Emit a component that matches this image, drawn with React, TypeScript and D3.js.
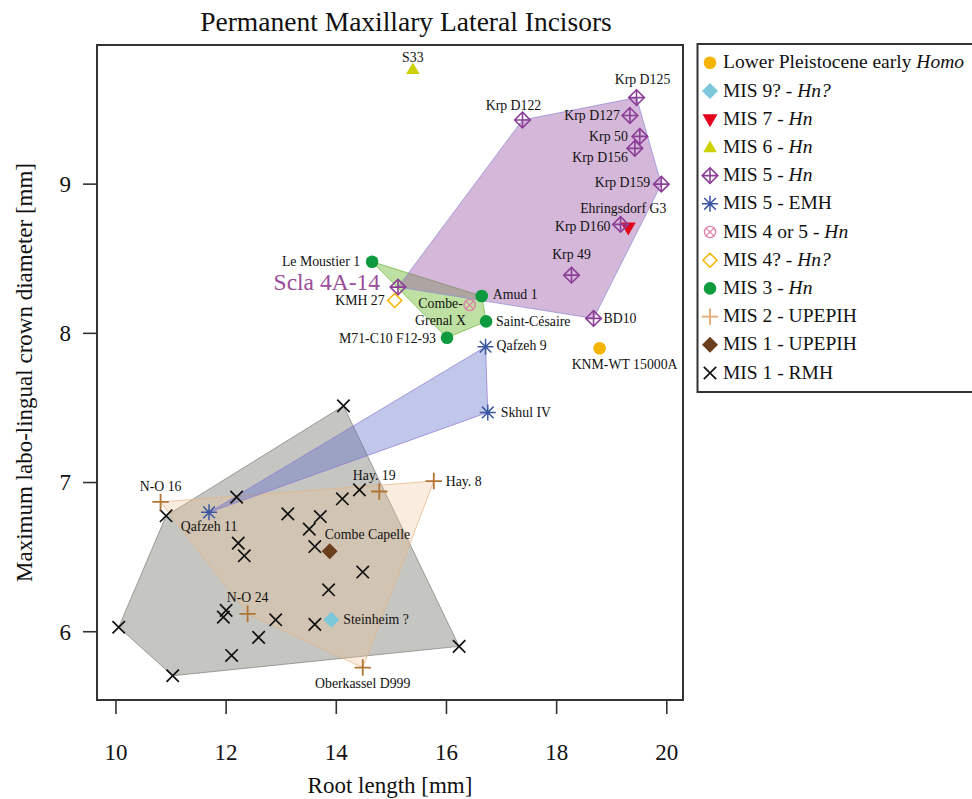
import React from 'react';
import * as d3 from 'd3';

// ---- groups (legend order) ----
const groupNames = [
  'Lower Pleistocene early ',
  'MIS 9? - ',
  'MIS 7 - ',
  'MIS 6 - ',
  'MIS 5 - ',
  'MIS 5 - EMH',
  'MIS 4 or 5 - ',
  'MIS 4? - ',
  'MIS 3 - ',
  'MIS 2 - UPEPIH',
  'MIS 1 - UPEPIH',
  'MIS 1 - RMH',
];
const groupItalic = ['Homo', 'Hn?', 'Hn', 'Hn', 'Hn', '', 'Hn', 'Hn?', 'Hn', '', '', ''];
const groupColors = [
  '#F5B400', '#7CC8DA', '#E2001A', '#CDD100', '#8C3F97', '#3A56A3',
  '#E07DA8', '#F5B400', '#0E9A3E', '#B07434', '#6A3D1C', '#111111',
];

// ---- named specimens ----
const specimenNames = [
  'KNM-WT 15000A', 'Steinheim ?', 'Ehringsdorf G3', 'S33',
  'Scla 4A-14', 'Krp D122', 'Krp D125', 'Krp D127', 'Krp 50', 'Krp D156', 'Krp D159', 'Krp D160', 'Krp 49', 'BD10',
  'Qafzeh 9', 'Skhul IV', 'Qafzeh 11',
  'Combe-Grenal X', 'KMH 27',
  'Le Moustier 1', 'Amud 1', 'Saint-Césaire', 'M71-C10 F12-93',
  'N-O 16', 'Hay. 19', 'Hay. 8', 'N-O 24', 'Oberkassel D999',
  'Combe Capelle',
];
const specimenGroup = [
  0, 1, 2, 3,
  4, 4, 4, 4, 4, 4, 4, 4, 4, 4,
  5, 5, 5,
  6, 7,
  8, 8, 8, 8,
  9, 9, 9, 9, 9,
  10,
];
const specimenRoot = [
  18.78, 13.91, 19.30, 15.39,
  15.12, 17.38, 19.45, 19.33, 19.51, 19.42, 19.90, 19.16, 18.27, 18.67,
  16.71, 16.75, 11.69,
  16.42, 15.06,
  14.65, 16.64, 16.72, 16.01,
  10.81, 14.78, 15.77, 12.39, 14.48,
  13.88,
];
const specimenCrown = [
  7.90, 6.08, 8.71, 9.77,
  8.31, 9.43, 9.58, 9.46, 9.32, 9.24, 9.00, 8.73, 8.39, 8.10,
  7.91, 7.47, 6.80,
  8.19, 8.22,
  8.48, 8.25, 8.08, 7.97,
  6.87, 6.94, 7.01, 6.12, 5.76,
  6.54,
];

// ---- unnamed recent modern humans (MIS 1 - RMH) ----
const rmhRoot = [
  11.03, 10.05, 10.91, 12.19, 12.22, 12.33, 12.00, 11.95, 12.10, 12.59, 12.90,
  13.12, 13.51, 13.71, 13.61, 13.61, 13.86, 14.48, 14.11, 14.42, 14.13, 16.23,
];
const rmhCrown = [
  5.705, 6.03, 6.777, 6.902, 6.594, 6.509, 6.143, 6.098, 5.841, 5.962, 6.08,
  6.79, 6.688, 6.772, 6.571, 6.049, 6.281, 6.40, 6.891, 6.951, 7.514, 5.902,
];

const xTicks = [10, 12, 14, 16, 18, 20];
const yTicks = [6, 7, 8, 9];

// groups enclosed by convex hulls, drawn in this order
const hullGroups = [11, 9, 5, 8, 4];
const hullFill: Record<number, string> = {
  11: 'rgba(120,120,112,0.43)',
  9: 'rgba(240,196,150,0.30)',
  5: 'rgba(80,100,200,0.36)',
  8: 'rgba(120,190,60,0.48)',
  4: 'rgba(150,75,160,0.40)',
};
const hullStroke: Record<number, string> = {
  11: 'rgba(110,110,105,0.6)',
  9: 'rgba(230,180,130,0.7)',
  5: 'rgba(140,120,210,0.7)',
  8: 'rgba(110,180,60,0.7)',
  4: 'rgba(140,140,210,0.7)',
};

// label placement around each point
type Lab = { dx: number; dy: number; anchor: string; lines?: string[]; size?: number; color?: string };
const labelLayout: Record<string, Lab> = {
  'KNM-WT 15000A': { dx: 25, dy: 16, anchor: 'middle' },
  'Steinheim ?': { dx: 12, dy: 0, anchor: 'start' },
  'Ehringsdorf G3': { dx: -5, dy: -19, anchor: 'middle' },
  'S33': { dx: 0, dy: -12, anchor: 'middle' },
  'Scla 4A-14': { dx: -18, dy: -5, anchor: 'end', size: 23.5, color: '#9A4C9A' },
  'Krp D122': { dx: -9, dy: -15, anchor: 'middle' },
  'Krp D125': { dx: 6, dy: -18, anchor: 'middle' },
  'Krp D127': { dx: -10, dy: 0, anchor: 'end' },
  'Krp 50': { dx: -12, dy: 0, anchor: 'end' },
  'Krp D156': { dx: -7, dy: 9, anchor: 'end' },
  'Krp D159': { dx: -11, dy: -2, anchor: 'end' },
  'Krp D160': { dx: -10, dy: 2, anchor: 'end' },
  'Krp 49': { dx: 0, dy: -21, anchor: 'middle' },
  'BD10': { dx: 10, dy: 0, anchor: 'start' },
  'Qafzeh 9': { dx: 11, dy: -1, anchor: 'start' },
  'Skhul IV': { dx: 13, dy: 0, anchor: 'start' },
  'Qafzeh 11': { dx: 0, dy: 14, anchor: 'middle' },
  'Combe-Grenal X': { dx: -29, dy: -2, anchor: 'middle', lines: ['Combe-', 'Grenal X'] },
  'KMH 27': { dx: -10, dy: 0, anchor: 'end' },
  'Le Moustier 1': { dx: -12, dy: 0, anchor: 'end' },
  'Amud 1': { dx: 11, dy: -2, anchor: 'start' },
  'Saint-Césaire': { dx: 10, dy: 0, anchor: 'start' },
  'M71-C10 F12-93': { dx: -11, dy: 0, anchor: 'end' },
  'N-O 16': { dx: 0, dy: -16, anchor: 'middle' },
  'Hay. 19': { dx: -5, dy: -16, anchor: 'middle' },
  'Hay. 8': { dx: 12, dy: 0, anchor: 'start' },
  'N-O 24': { dx: 0, dy: -17, anchor: 'middle' },
  'Oberkassel D999': { dx: 0, dy: 16, anchor: 'middle' },
  'Combe Capelle': { dx: -5, dy: -17, anchor: 'start' },
};

const SERIF = '"Liberation Serif", "Times New Roman", serif';

function Marker({ g, x, y, legend }: { g: number; x: number; y: number; legend?: boolean }) {
  const c = legend && g === 9 ? '#E3A96E' : groupColors[g];
  const diamond = (h: number) => `M${x},${y - h}L${x + h},${y}L${x},${y + h}L${x - h},${y}Z`;
  switch (g) {
    case 0:
    case 8:
      return <circle cx={x} cy={y} r={6.3} fill={c} />;
    case 1:
    case 10:
      return <path d={diamond(8)} fill={c} />;
    case 2:
      return <path d={`M${x - 7.5},${y - 5}L${x + 7.5},${y - 5}L${x},${y + 8}Z`} fill={c} />;
    case 3:
      return <path d={`M${x - 6.8},${y + 4.8}L${x + 6.8},${y + 4.8}L${x},${y - 6.8}Z`} fill={c} />;
    case 4:
      return (
        <g stroke={c} strokeWidth={1.6} fill="none">
          <path d={diamond(7.8)} />
          <path d={`M${x - 7.8},${y}H${x + 7.8}M${x},${y - 7.8}V${y + 7.8}`} />
        </g>
      );
    case 5: {
      const h = 8, d = 5.8;
      return (
        <path
          d={`M${x - h},${y}H${x + h}M${x},${y - h}V${y + h}M${x - d},${y - d}L${x + d},${y + d}M${x - d},${y + d}L${x + d},${y - d}`}
          stroke={c} strokeWidth={1.5} fill="none"
        />
      );
    }
    case 6: {
      const d = 3.9;
      return (
        <g stroke={c} strokeWidth={1.3} fill="none">
          <circle cx={x} cy={y} r={5.6} />
          <path d={`M${x - d},${y - d}L${x + d},${y + d}M${x - d},${y + d}L${x + d},${y - d}`} />
        </g>
      );
    }
    case 7:
      return <path d={diamond(7)} stroke={c} strokeWidth={1.5} fill="none" />;
    case 9:
      return (
        <path d={`M${x - 8.2},${y}H${x + 8.2}M${x},${y - 8.2}V${y + 8.2}`} stroke={c} strokeWidth={1.8} fill="none" />
      );
    default: {
      const d = 6.2;
      return (
        <path d={`M${x - d},${y - d}L${x + d},${y + d}M${x - d},${y + d}L${x + d},${y - d}`} stroke={c} strokeWidth={1.7} fill="none" />
      );
    }
  }
}

export default function App() {
  const W = 972, H = 799;
  const left = 97, right = 683, top = 45, bottom = 700;

  const allX = [...specimenRoot, ...rmhRoot];
  const allY = [...specimenCrown, ...rmhCrown];
  const [x0, x1] = d3.extent(allX) as [number, number];
  const [y0, y1] = d3.extent(allY) as [number, number];
  const px = (x1 - x0) * 0.04, py = (y1 - y0) * 0.04;
  const xScale = d3.scaleLinear().domain([x0 - px, x1 + px]).range([left, right]);
  const yScale = d3.scaleLinear().domain([y0 - py, y1 + py]).range([bottom, top]);

  const points = specimenNames.map((name, i) => ({
    name, g: specimenGroup[i], x: xScale(specimenRoot[i]), y: yScale(specimenCrown[i]),
  }));
  const rmhPoints = rmhRoot.map((v, i) => ({ g: 11, x: xScale(v), y: yScale(rmhCrown[i]) }));
  const every = [...points, ...rmhPoints];

  const hulls = hullGroups.map((g) => {
    const pts = every.filter((p) => p.g === g).map((p) => [p.x, p.y] as [number, number]);
    const hull = d3.polygonHull(pts) || pts;
    return { g, d: 'M' + hull.map((p) => p.join(',')).join('L') + 'Z' };
  });

  const legendX = 697.5, legendTop = 44, rowH = 28.2, firstBase = 68.3;

  return (
    <svg width={W} height={H} style={{ position: 'absolute', left: 0, top: 0, background: '#fff' }} fontFamily={SERIF}>
      <rect x={0} y={0} width={W} height={H} fill="#fff" />
      {/* title */}
      <text x={406} y={31} textAnchor="middle" fontSize={27.5} fill="#111">Permanent Maxillary Lateral Incisors</text>

      {/* hull polygons */}
      {hulls.map((h) => (
        <path key={h.g} d={h.d} fill={hullFill[h.g]} stroke={hullStroke[h.g]} strokeWidth={1} />
      ))}

      {/* markers */}
      {rmhPoints.map((p, i) => <Marker key={'r' + i} g={11} x={p.x} y={p.y} />)}
      {points.map((p) => <Marker key={p.name} g={p.g} x={p.x} y={p.y} />)}

      {/* labels */}
      {points.map((p) => {
        const L = labelLayout[p.name];
        if (!L) return null;
        const size = L.size || 13.8;
        const lines = L.lines || [p.name];
        const lh = 17.5;
        return (
          <text key={'t' + p.name} x={p.x + L.dx} textAnchor={L.anchor} fontSize={size} fill={L.color || '#111'}>
            {lines.map((ln, k) => (
              <tspan key={k} x={p.x + L.dx} y={p.y + L.dy + k * lh + size * 0.34}>{ln}</tspan>
            ))}
          </text>
        );
      })}

      {/* frame */}
      <rect x={left} y={top} width={right - left} height={bottom - top} fill="none" stroke="#333" strokeWidth={2} />

      {/* x axis */}
      {xTicks.map((t) => (
        <g key={'x' + t}>
          <line x1={xScale(t)} x2={xScale(t)} y1={bottom} y2={bottom + 14} stroke="#333" strokeWidth={1.6} />
          <text x={xScale(t)} y={760} textAnchor="middle" fontSize={23} fill="#111">{t}</text>
        </g>
      ))}
      <text x={(left + right) / 2} y={793} textAnchor="middle" fontSize={23} fill="#111">Root length [mm]</text>

      {/* y axis */}
      {yTicks.map((t) => (
        <g key={'y' + t}>
          <line x1={left - 14} x2={left} y1={yScale(t)} y2={yScale(t)} stroke="#333" strokeWidth={1.6} />
          <text x={71} y={yScale(t) + 7.8} textAnchor="end" fontSize={23} fill="#111">{t}</text>
        </g>
      ))}
      <text transform={`translate(32, ${(top + bottom) / 2}) rotate(-90)`} textAnchor="middle" fontSize={23} fill="#111">
        Maximum labo-lingual crown diameter [mm]
      </text>

      {/* legend */}
      <rect x={legendX} y={legendTop} width={300} height={348} fill="#fff" stroke="#333" strokeWidth={2} />
      {groupNames.map((name, i) => {
        const base = firstBase + i * rowH;
        return (
          <g key={'lg' + i}>
            <Marker g={i} x={710} y={base - 5.5} legend />
            <text x={723} y={base} fontSize={19.5} fill="#111">
              {name}
              {groupItalic[i] && <tspan fontStyle="italic">{groupItalic[i]}</tspan>}
            </text>
          </g>
        );
      })}
    </svg>
  );
}
